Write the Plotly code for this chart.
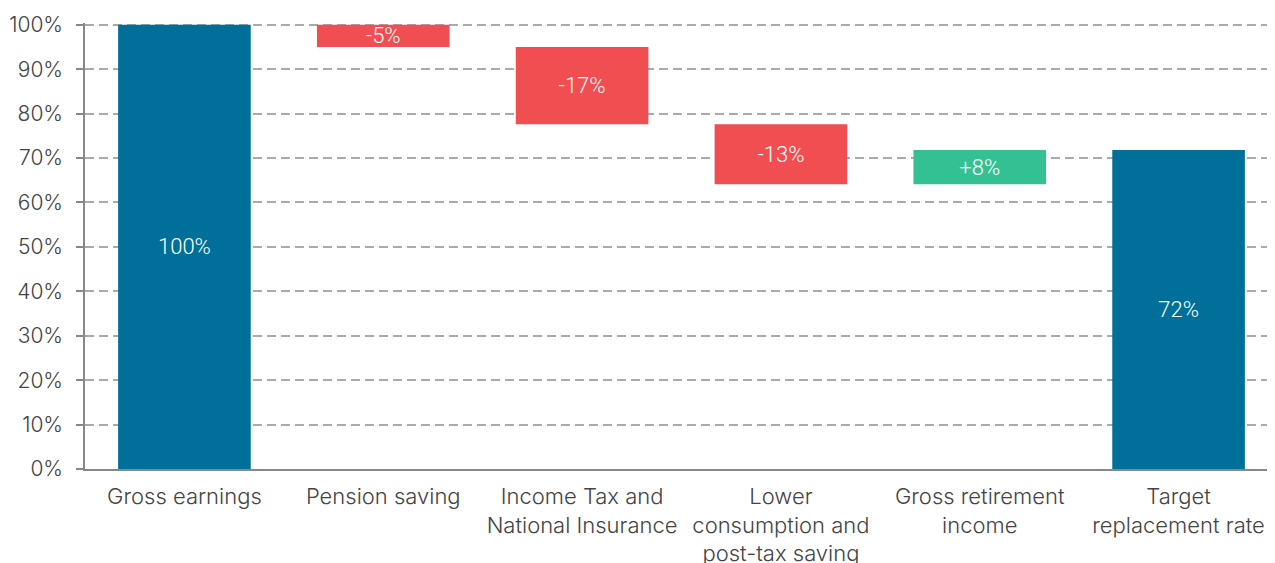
import plotly.graph_objects as go

categories = ["Gross earnings", "Pension saving", "Income Tax and<br>National Insurance",
              "Lower<br>consumption and<br>post-tax saving", "Gross retirement<br>income",
              "Target<br>replacement rate"]
measures = ["absolute", "relative", "relative", "relative", "relative", "total"]
values = [100, -5, -17.4, -13.5, 7.7, 0]
labels = ["100%", "-5%", "-17%", "-13%", "+8%", "72%"]
y_ticks = [0, 10, 20, 30, 40, 50, 60, 70, 80, 90, 100]
y_ticklabels = [f"{v}%" for v in y_ticks]

BLUE = "#00709A"
RED = "#F04E50"
GREEN = "#33C194"
FONT = "Inter"

fig = go.Figure(go.Waterfall(
    x=categories,
    y=values,
    measure=measures,
    text=labels,
    textposition="inside",
    insidetextanchor="middle",
    textfont=dict(family="Roboto", size=22, color="white", weight=300),
    decreasing=dict(marker=dict(color=RED)),
    increasing=dict(marker=dict(color=GREEN)),
    totals=dict(marker=dict(color=BLUE)),
    connector=dict(visible=False),
    cliponaxis=False,
))

fig.update_layout(
    width=1275, height=563,
    margin=dict(l=77, r=5, t=15, b=102, autoexpand=False),
    plot_bgcolor="white", paper_bgcolor="white",
    waterfallgap=0.333,
    showlegend=False,
    font=dict(family=FONT, size=21, color="#444444"),
    uniformtext=dict(minsize=22, mode="show"),
)
fig.update_yaxes(
    automargin=False,
    range=[0, 100.4],
    tickvals=y_ticks, ticktext=y_ticklabels,
    showgrid=True, gridcolor="#AAAAAA", gridwidth=2, griddash="9px,5px",
    showline=True, linecolor="#888888", linewidth=1.5,
    ticks="outside", ticklen=7, tickcolor="#888888", tickwidth=1.5,
    ticklabelstandoff=9,
    zeroline=False,
    tickfont=dict(family=FONT, size=21, color="#444444", weight=300),
)
fig.update_xaxes(
    automargin=False,
    showline=True, linecolor="#888888", linewidth=1.5,
    ticks="", showgrid=False,
    ticklabelstandoff=7,
    tickfont=dict(family=FONT, size=22, color="#444444", weight=300),
)

fig.write_html("out.html")
